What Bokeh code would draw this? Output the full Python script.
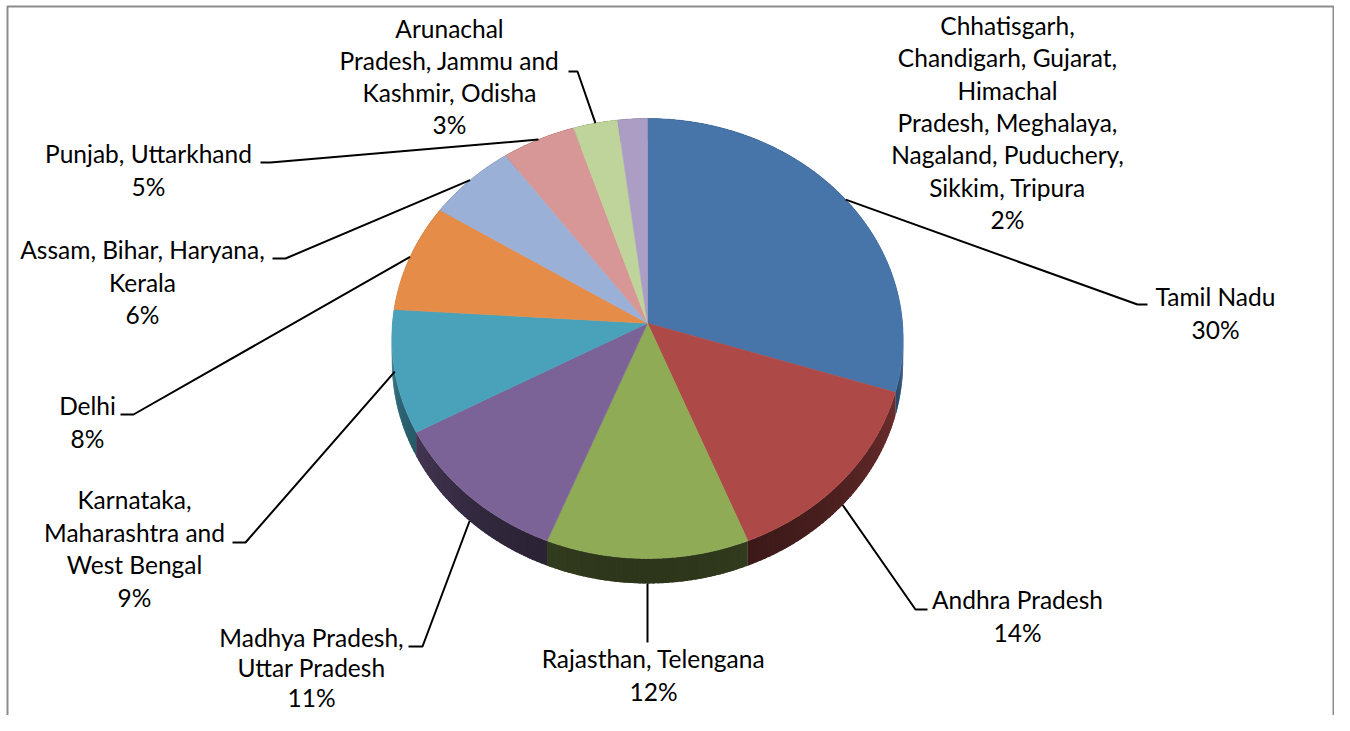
import numpy as np
from bokeh.plotting import figure
from bokeh.models import Range1d, ColumnDataSource
from bokeh.embed import file_html
from bokeh.resources import INLINE
from bokeh.core.properties import value

# ---------------- data ----------------
categories = [
    "Tamil Nadu",
    "Andhra Pradesh",
    "Rajasthan, Telengana",
    "Madhya Pradesh, Uttar Pradesh",
    "Karnataka, Maharashtra and West Bengal",
    "Delhi",
    "Assam, Bihar, Haryana, Kerala",
    "Punjab, Uttarkhand",
    "Arunachal Pradesh, Jammu and Kashmir, Odisha",
    "Chhatisgarh, Chandigarh, Gujarat, Himachal Pradesh, Meghalaya, Nagaland, Puduchery, Sikkim, Tripura",
]
shares = [30, 14, 12, 11, 9, 8, 6, 5, 3, 2]

# ---------------- styling / layout ----------------
slice_colors = ["#4775A9", "#AD4A48", "#8FAB55", "#7B6397", "#4AA2BA",
                "#E48C48", "#9BB0D6", "#D69796", "#BFD49B", "#AB9DC3"]

# wrapped label lines (as Excel wrapped them)
label_lines = [
    ["Tamil Nadu"],
    ["Andhra Pradesh"],
    ["Rajasthan, Telengana"],
    ["Madhya Pradesh,", "Uttar Pradesh"],
    ["Karnataka,", "Maharashtra and", "West Bengal"],
    ["Delhi"],
    ["Assam, Bihar, Haryana,", "Kerala"],
    ["Punjab, Uttarkhand"],
    ["Arunachal", "Pradesh, Jammu and", "Kashmir, Odisha"],
    ["Chhatisgarh,", "Chandigarh, Gujarat,", "Himachal", "Pradesh, Meghalaya,",
     "Nagaland, Puduchery,", "Sikkim, Tripura"],
]
# label block: centre x, first baseline y (visual) ; leader elbow and end (None = no leader)
label_cx = [1215, 1017, 653, 311, 134, 87, 142, 148, 449, 1007]
label_y0 = [305, 608, 667, 646, 508, 414, 258, 162, 37, 34]
label_lh = [32.5, 32.5, 32.5, 30.0, 32.5, 32.5, 32.5, 32.5, 32.0, 32.3]
TEXT_SHIFT = -9  # compensates the renderer's baseline placement
leader_elbow = [(1137, 304), (915, 609), (647, 642), (422, 646), (245, 542),
                (133, 414), (285, 258), (270, 162), (577, 71), None]
leader_end = [(1147, 304), (927, 609), None, (408, 646), (232, 542),
              (120, 414), (272, 258), (260, 162), (568, 71), None]
FONT = "Lato"
FONT_SIZE = "24.5px"

# pie projection (perspective-tilted disc)
CX, CY = 647.0, 322.7
A, B, C = 255.0, 218.9, -0.0695
DEPTH = 23.3


def proj(theta_deg):
    t = np.radians(theta_deg)
    u = np.sin(t)
    v = -np.cos(t)
    d = 1.0 + C * v
    return CX + A * u / d, CY + B * v / d, DEPTH / d, v


def shade(hexcol, f):
    h = hexcol.lstrip("#")
    r, g, b = (int(h[i:i + 2], 16) for i in (0, 2, 4))
    return "#%02x%02x%02x" % (int(r * f), int(g * f), int(b * f))


total = float(sum(shares))
ends = np.cumsum(shares) / total * 360.0
starts = np.concatenate([[0.0], ends[:-1]])

p = figure(width=1334, height=715, output_backend="svg", toolbar_location=None,
           x_range=Range1d(0, 1334), y_range=Range1d(715, 0),
           x_axis_location=None, y_axis_location=None, min_border=0,
           background_fill_color="white", border_fill_color="white")
p.grid.visible = False
p.outline_line_color = None

# ---- side wall (painter's order, back to front, overlapping strips) ----
segs = []
for i, (a0, a1) in enumerate(zip(starts, ends)):
    th = np.arange(a0, a1, 1.0)
    th = np.append(th, a1)
    for j, (t0, t1) in enumerate(zip(th[:-1], th[1:])):
        te = min(t1 + 0.7, a1)
        tt = np.linspace(t0, te, 3)
        xs, ys, ds, vs = proj(tt)
        vm = float(np.mean(vs))
        f = 0.32 + 0.45 * (1 - abs(vm))
        col = shade(slice_colors[i], f)
        segs.append((vm, list(xs) + list(xs[::-1]),
                     list(ys) + list((ys + ds)[::-1]), col))
segs.sort(key=lambda s: s[0])
side_src = ColumnDataSource(dict(xs=[s[1] for s in segs], ys=[s[2] for s in segs],
                                 c=[s[3] for s in segs]))
p.patches("xs", "ys", source=side_src, fill_color="c", line_color=None)

# ---- top faces ----
txs, tys = [], []
for a0, a1 in zip(starts, ends):
    th = np.linspace(a0, a1, max(4, int((a1 - a0) / 0.5)))
    px, py, _, _ = proj(th)
    txs.append([CX] + list(px))
    tys.append([CY] + list(py))
top_src = ColumnDataSource(dict(xs=txs, ys=tys, c=slice_colors))
p.patches("xs", "ys", source=top_src, fill_color="c", line_color="c", line_width=0.6)

# ---- leader lines ----
lxs, lys = [], []
for i, (a0, a1) in enumerate(zip(starts, ends)):
    if leader_elbow[i] is None:
        continue
    mx, my, md, mv = proj(0.5 * (a0 + a1))
    if mv > 0.5:
        my = my + md
    xs = [mx, leader_elbow[i][0]]
    ys = [my, leader_elbow[i][1]]
    if leader_end[i] is not None:
        xs.append(leader_end[i][0])
        ys.append(leader_end[i][1])
    lxs.append(xs)
    lys.append(ys)
p.multi_line(lxs, lys, line_color="black", line_width=2)

# ---- labels ----
tx, ty, tt = [], [], []
for i, lines in enumerate(label_lines):
    allines = lines + ["%d%%" % shares[i]]
    for k, ln in enumerate(allines):
        tx.append(label_cx[i])
        ty.append(label_y0[i] + k * label_lh[i] + TEXT_SHIFT)
        tt.append(ln)
p.text(x=tx, y=ty, text=tt, text_align="center", text_baseline="alphabetic",
       text_font=value(FONT), text_font_size=FONT_SIZE, text_color="black")

# ---- chart-area frame (clipped at the bottom, as in the original) ----
p.line(x=[7, 7, 1333, 1333], y=[760, 6, 6, 760], line_color="#8c8c8c", line_width=2)

open("out.html", "w").write(file_html(p, INLINE))
